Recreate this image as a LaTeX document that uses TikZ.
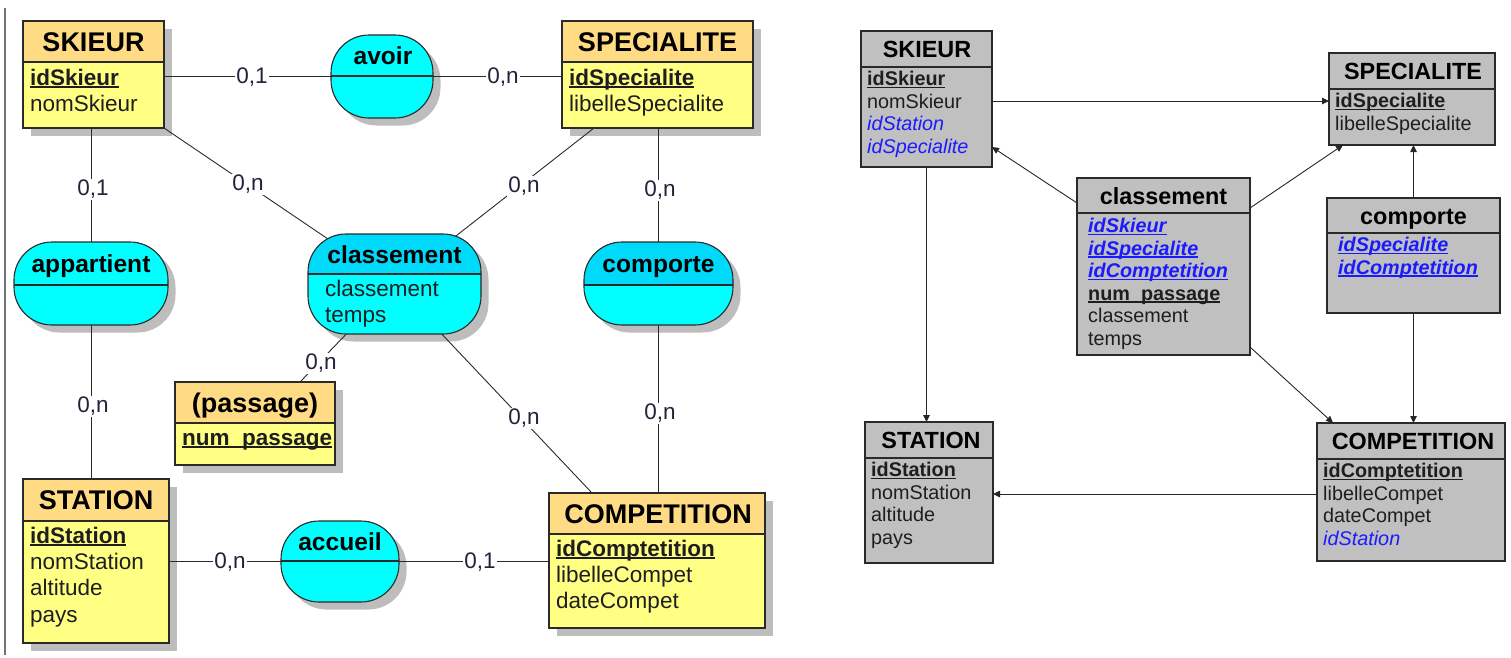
\documentclass[tikz,border=0pt]{standalone}
\usepackage{fontspec}
\setmainfont{Liberation Sans}
\usetikzlibrary{arrows.meta}
\pgfdeclarelayer{shadowlayer}
\pgfdeclarelayer{linelayer}
\pgfsetlayers{shadowlayer,linelayer,main}
\definecolor{enthead}{HTML}{FFDB84}
\definecolor{entbody}{HTML}{FFFF84}
\definecolor{ashead}{HTML}{00DAFA}
\definecolor{asbody}{HTML}{00FFFF}
\definecolor{shad}{HTML}{BDBDBD}
\definecolor{bordc}{HTML}{2A2A2A}
\definecolor{rgray}{HTML}{C0C0C0}
\definecolor{fkblue}{HTML}{1A1AFF}
\definecolor{txtc}{HTML}{1E1E1E}
\definecolor{lblc}{HTML}{22223A}
\newcommand\myul[1]{\leavevmode\setbox0\hbox{#1}\rlap{\rule[-0.13em]{\wd0}{0.07em}}\box0}
\newcommand\fkul[1]{\textcolor{fkblue}{\myul{\textbf{\textit{#1}}}}}
\newcommand\fkit[1]{\textcolor{fkblue}{\textit{#1}}}
\tikzset{
  ent/.style={draw=bordc, line width=1.1pt, fill=entbody, inner sep=0pt, outer sep=0pt, anchor=north west,
    path picture={\fill[enthead, sharp corners] (path picture bounding box.north west) rectangle ([shift={(0,#1)}]path picture bounding box.north east);
      \draw[bordc, line width=1.1pt] ([shift={(0,#1)}]path picture bounding box.north west) -- ([shift={(0,#1)}]path picture bounding box.north east);}},
  asc/.style args={#1/#2}{draw=bordc, line width=1.1pt, fill=asbody, rounded corners=38pt, inner sep=0pt, outer sep=0pt, anchor=north west,
    path picture={\fill[#2, sharp corners] (path picture bounding box.north west) rectangle ([shift={(0,#1)}]path picture bounding box.north east);
      \draw[bordc, line width=1.1pt] ([shift={(0,#1)}]path picture bounding box.north west) -- ([shift={(0,#1)}]path picture bounding box.north east);}},
  rent/.style={draw=bordc, line width=1.1pt, fill=rgray, inner sep=0pt, outer sep=0pt, anchor=north west,
    path picture={\draw[bordc, line width=1.1pt] ([shift={(0,#1)}]path picture bounding box.north west) -- ([shift={(0,#1)}]path picture bounding box.north east);}},
  ttl/.style={anchor=base, inner sep=0pt, text=black, font=\fontsize{27}{30}\selectfont\bfseries},
  attl/.style={anchor=base, inner sep=0pt, text=black, font=\fontsize{24.6}{28}\selectfont\bfseries},
  rttl/.style={anchor=base, inner sep=0pt, text=black, font=\fontsize{23.4}{26}\selectfont\bfseries},
  latt/.style={anchor=base west, inner sep=0pt, text=txtc, font=\fontsize{22.5}{26}\selectfont},
  ratt/.style={anchor=base west, inner sep=0pt, text=txtc, font=\fontsize{19.8}{22}\selectfont},
  lbl/.style={fill=white, inner sep=1.2pt, text=lblc, font=\fontsize{22.5}{26}\selectfont},
  conn/.style={draw=bordc, line width=0.9pt},
  arr/.style={draw=black!85, line width=0.9pt, -{Triangle[length=7pt,width=6.5pt]}}
}
\begin{document}
\begin{tikzpicture}[x=1pt,y=-1pt]
\useasboundingbox (0,0) rectangle (1511,657);
\draw[line width=2.6pt, black!55] (5,8) -- (5,655);
% ---------------- left: entities
\node[ent=41, minimum width=141pt, minimum height=107pt] (sk) at (23,21) {};
\node[ent=41, minimum width=191pt, minimum height=107pt] (sp) at (562,21) {};
\node[ent=42, minimum width=146pt, minimum height=164pt] (st) at (23,479) {};
\node[ent=41, minimum width=216pt, minimum height=135pt] (co) at (549,493) {};
\node[ent=41, minimum width=160pt, minimum height=83pt] (pa) at (175,382) {};
% ---------------- left: associations
\node[asc=41/asbody, minimum width=102pt, minimum height=83pt] (av) at (331,35) {};
\node[asc=43/asbody, minimum width=154pt, minimum height=83pt] (ap) at (14,242) {};
\node[asc=40/ashead, minimum width=173pt, minimum height=100pt] (cl) at (308,234) {};
\node[asc=43/ashead, minimum width=149pt, minimum height=83pt] (cp) at (584,242) {};
\node[asc=40/asbody, minimum width=118pt, minimum height=81pt] (ac) at (281,521) {};
% shadows
\begin{pgfonlayer}{shadowlayer}
\foreach \n in {sk,sp,st,co,pa}
  \fill[shad] ([shift={(7.5,7.5)}]\n.north west) rectangle ([shift={(7.5,7.5)}]\n.south east);
\foreach \n in {av,ap,cl,cp,ac}
  \fill[shad, rounded corners=38pt] ([shift={(7.5,7.5)}]\n.north west) rectangle ([shift={(7.5,7.5)}]\n.south east);
\end{pgfonlayer}
% connectors
\begin{pgfonlayer}{linelayer}
\draw[conn] (sk.east |- av.center) -- (av.center);
\draw[conn] (av.center) -- (av.center -| sp.west);
\draw[conn] (ap.center |- sk.south) -- (ap.center);
\draw[conn] (sk.south east) -- (cl.center);
\draw[conn] ([shift={(32,0)}]sp.south west) -- (cl.center);
\draw[conn] (cp.center |- sp.south) -- (cp.center);
\draw[conn] (ap.center) -- (ap.center |- st.north);
\draw[conn] (cl.center) -- ([shift={(125,0)}]pa.north west);
\draw[conn] (cl.center) -- ([shift={(43,0)}]co.north west);
\draw[conn] (cp.center) -- (cp.center |- co.north);
\draw[conn] (st.east |- ac.center) -- (ac.center);
\draw[conn] (ac.center) -- (ac.center -| co.west);
\end{pgfonlayer}
% titles
\node[ttl] (skT) at (93.5,51) {SKIEUR};
\node[ttl] (spT) at (657.5,51) {SPECIALITE};
\node[ttl] (stT) at (96,509) {STATION};
\node[ttl] (coT) at (658,523) {COMPETITION};
\node[ttl] (paT) at (255,412) {(passage)};
\node[attl] (avT) at (383,64) {avoir};
\node[attl] (apT) at (91,272) {appartient};
\node[attl] (clT) at (394.5,263) {classement};
\node[attl] (cpT) at (658.5,272) {comporte};
\node[attl] (acT) at (340,550) {accueil};
% attributes
\node[latt] (sk1) at (30,85) {\myul{\textbf{idSkieur}}};
\node[latt] (sk2) at (30,111.3) {nomSkieur};
\node[latt] (sp1) at (569,85) {\myul{\textbf{idSpecialite}}};
\node[latt] (sp2) at (569,111.3) {libelleSpecialite};
\node[latt] (st1) at (30,543) {\myul{\textbf{idStation}}};
\node[latt] (st2) at (30,569.3) {nomStation};
\node[latt] (st3) at (30,595.6) {altitude};
\node[latt] (st4) at (30,622) {pays};
\node[latt] (co1) at (556,556) {\myul{\textbf{idComptetition}}};
\node[latt] (co2) at (556,582.3) {libelleCompet};
\node[latt] (co3) at (556,608.6) {dateCompet};
\node[latt] (pa1) at (182,445) {\myul{\textbf{num\_passage}}};
\node[latt] (cl1) at (325,296) {classement};
\node[latt] (cl2) at (325,322) {temps};
% cardinalities
\node[lbl] (l1) at (252,77) {0,1};
\node[lbl] (l2) at (503,77) {0,n};
\node[lbl] (l3) at (93,189) {0,1};
\node[lbl] (l4) at (248,184) {0,n};
\node[lbl] (l5) at (524,186) {0,n};
\node[lbl] (l6) at (660,190) {0,n};
\node[lbl] (l7) at (93,406) {0,n};
\node[lbl] (l8) at (321,363) {0,n};
\node[lbl] (l9) at (524,418) {0,n};
\node[lbl] (l10) at (660,413) {0,n};
\node[lbl] (l11) at (230,562) {0,n};
\node[lbl] (l12) at (480,562) {0,1};
% ---------------- right: relational model
\node[rent=36, minimum width=131pt, minimum height=136pt] (rsk) at (861,31) {};
\node[rent=36, minimum width=166pt, minimum height=92pt] (rsp) at (1329,53) {};
\node[rent=35, minimum width=173pt, minimum height=177pt] (rcl) at (1077,178) {};
\node[rent=35, minimum width=173pt, minimum height=115pt] (rcp) at (1327,198) {};
\node[rent=36, minimum width=188pt, minimum height=138pt] (rco) at (1317,423) {};
\node[rent=36, minimum width=128pt, minimum height=141pt] (rst) at (865,422) {};
\node[rttl] (rskT) at (927,57.4) {SKIEUR};
\node[rttl] (rspT) at (1413,79.4) {SPECIALITE};
\node[rttl] (rclT) at (1163.5,204) {classement};
\node[rttl] (rcpT) at (1413.5,224) {comporte};
\node[rttl] (rcoT) at (1413,449.4) {COMPETITION};
\node[rttl] (rstT) at (931,448.4) {STATION};
\node[ratt] (rsk1) at (867,85.5) {\myul{\textbf{idSkieur}}};
\node[ratt] (rsk2) at (867,108) {nomSkieur};
\node[ratt] (rsk3) at (867,130.5) {\fkit{idStation}};
\node[ratt] (rsk4) at (867,153) {\fkit{idSpecialite}};
\node[ratt] (rsp1) at (1335,107.5) {\myul{\textbf{idSpecialite}}};
\node[ratt] (rsp2) at (1335,130) {libelleSpecialite};
\node[ratt] (rcl1) at (1088,232.5) {\fkul{idSkieur}};
\node[ratt] (rcl2) at (1088,255) {\fkul{idSpecialite}};
\node[ratt] (rcl3) at (1088,277.5) {\fkul{idComptetition}};
\node[ratt] (rcl4) at (1088,300) {\myul{\textbf{num\_passage}}};
\node[ratt] (rcl5) at (1088,322.5) {classement};
\node[ratt] (rcl6) at (1088,345) {temps};
\node[ratt] (rcp1) at (1338,251.5) {\fkul{idSpecialite}};
\node[ratt] (rcp2) at (1338,274) {\fkul{idComptetition}};
\node[ratt] (rco1) at (1323,477.5) {\myul{\textbf{idComptetition}}};
\node[ratt] (rco2) at (1323,500) {libelleCompet};
\node[ratt] (rco3) at (1323,522.5) {dateCompet};
\node[ratt] (rco4) at (1323,545) {\fkit{idStation}};
\node[ratt] (rst1) at (871,476.5) {\myul{\textbf{idStation}}};
\node[ratt] (rst2) at (871,499) {nomStation};
\node[ratt] (rst3) at (871,521.5) {altitude};
\node[ratt] (rst4) at (871,544) {pays};
% arrows
\draw[arr] ([shift={(0,70)}]rsk.north east) -- ([shift={(0,48)}]rsp.north west);
\draw[arr] ([shift={(0,25)}]rcl.north west) -- ([shift={(0,-20)}]rsk.south east);
\draw[arr] ([shift={(0,30)}]rcl.north east) -- ([shift={(14,0)}]rsp.south west);
\draw[arr] ([shift={(0,-8)}]rcl.south east) -- ([shift={(16,0)}]rco.north west);
\draw[arr] (rcp.north) -- (rcp.north |- rsp.south);
\draw[arr] (rcp.south) -- (rcp.south |- rco.north);
\draw[arr] ([shift={(0,71)}]rco.north west) -- ([shift={(0,72)}]rst.north east);
\draw[arr] (rsk.south) -- (rsk.south |- rst.north);
\end{tikzpicture}
\end{document}
